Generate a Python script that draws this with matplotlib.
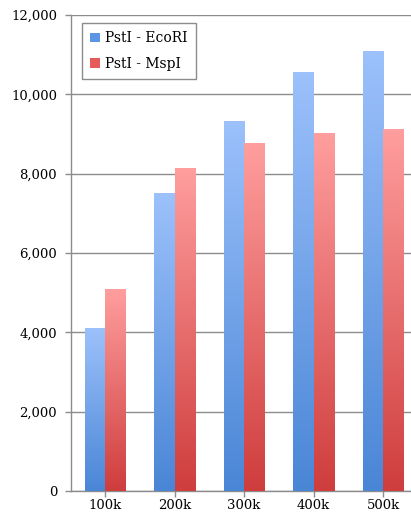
import numpy as np
import matplotlib.pyplot as plt
from matplotlib.colors import LinearSegmentedColormap
from matplotlib.patches import Patch

categories = ["100k", "200k", "300k", "400k", "500k"]
ecori = [4100, 7500, 9320, 10560, 11080]
mspi = [5080, 8130, 8760, 9010, 9120]

plt.rcParams['font.family'] = ['DejaVu Serif']
plt.rcParams['font.size'] = 9

fig = plt.figure(figsize=(4.11, 5.13), dpi=100)
ax = fig.add_axes([71 / 411, 22 / 513, 340 / 411, 476 / 513])

blue_cm = LinearSegmentedColormap.from_list("b", ["#4a86d6", "#9cc1fb"])
red_cm = LinearSegmentedColormap.from_list("r", ["#cf3d3d", "#ff9e9e"])
grad = np.linspace(0, 1, 256).reshape(-1, 1)

w = 0.29
x = np.arange(len(categories))
for xi, v in zip(x, ecori):
    ax.imshow(grad, cmap=blue_cm, origin="lower", aspect="auto",
              extent=[xi - w, xi, 0, v], zorder=3)
for xi, v in zip(x, mspi):
    ax.imshow(grad, cmap=red_cm, origin="lower", aspect="auto",
              extent=[xi, xi + w, 0, v], zorder=3)

ax.set_xlim(-0.49, 4.4)
ax.set_ylim(0, 12000)
ax.set_xticks(x)
ax.set_xticklabels(categories)
ax.set_yticks(np.arange(0, 12001, 2000))
ax.set_yticklabels([f"{t:,}" for t in range(0, 12001, 2000)])
ax.yaxis.grid(True, color="#8c8c8c", linewidth=1.0)
ax.set_axisbelow(True)
for s in ["top", "right"]:
    ax.spines[s].set_visible(False)
for s in ["left", "bottom"]:
    ax.spines[s].set_color("#8c8c8c")
    ax.spines[s].set_linewidth(1.0)
ax.tick_params(axis="both", color="#8c8c8c", length=4, width=1.0, labelsize=9.5)
ax.tick_params(axis="y", pad=6)
ax.tick_params(axis="x", pad=1.5)

handles = [Patch(facecolor="#5b95e4", label="PstI - EcoRI"),
           Patch(facecolor="#e65a5a", label="PstI - MspI")]
leg = ax.legend(handles=handles, loc="upper left", bbox_to_anchor=(0.032, 0.983),
                borderaxespad=0, fancybox=False, framealpha=1, edgecolor="#8c8c8c",
                handlelength=0.7, handleheight=0.7, handletextpad=0.4,
                labelspacing=0.8, borderpad=0.6, fontsize=10)
leg.get_frame().set_linewidth(1.0)

fig.savefig("out.png", dpi=100)
